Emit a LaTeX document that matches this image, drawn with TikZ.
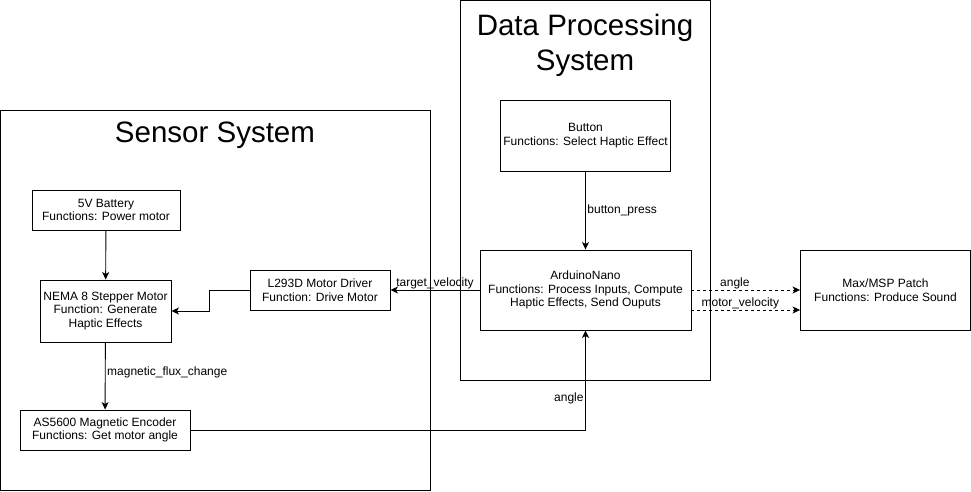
\documentclass[tikz,border=0pt]{standalone}
\usepackage{fontspec}
\setmainfont{Liberation Sans}
\usetikzlibrary{arrows.meta}

\begin{document}
\begin{tikzpicture}[x=1pt, y=-1pt, >={Stealth[length=7.5pt, width=7pt, inset=2pt]}, line width=0.9pt,
    block/.style={draw, align=center, inner sep=0pt, font=\fontsize{12}{13.5}\selectfont},
    lbl/.style={inner sep=1.5pt, font=\fontsize{12}{14}\selectfont},
    title/.style={align=center, font=\fontsize{29.5}{35}\selectfont}]
  \useasboundingbox (0,0) rectangle (971,491);
  % the two subsystems
  \draw (0.5,110.5) rectangle (430,490.5);
  \draw (460,0.5) rectangle (710,380);
  \node[title] (senstitle) at (215,135) {Sensor System};
  \node[title] (datatitle) at (585,45) {Data Processing\\System};
  % sensor system
  \node[block, minimum width=148pt, minimum height=40pt] (battery) at (106,210) {5V Battery\\Functions: Power motor};
  \node[block, minimum width=131pt, minimum height=62pt] (nema) at (105.5,311) {NEMA 8 Stepper Motor\\Function: Generate\\Haptic Effects};
  \node[block, minimum width=140pt, minimum height=40pt] (driver) at (320,290) {L293D Motor Driver\\Function: Drive Motor};
  \node[block, minimum width=170pt, minimum height=40pt] (encoder) at (105,430) {AS5600 Magnetic Encoder\\Functions: Get motor angle};
  % data processing system
  \node[block, minimum width=170pt, minimum height=71pt] (button) at (585.5,135.5) {Button\\Functions: Select Haptic Effect};
  \node[block, minimum width=211pt, minimum height=80pt] (nano) at (585.5,290) {ArduinoNano\\Functions: Process Inputs, Compute\\Haptic Effects, Send Ouputs};
  \node[block, minimum width=170pt, minimum height=80pt] (maxmsp) at (885.5,290) {Max/MSP Patch\\Functions: Produce Sound};

  \path[->] (battery) edge (nema);
  \path[->] (nema) edge node[lbl, right, pos=0.45] {magnetic\_flux\_change} (encoder);
  \draw[->] (driver.west) -- ++(-40,0) |- (nema.east);
  \draw[->] (encoder.east) -| node[lbl, left, pos=0.66] {angle} (nano.south);
  \path[->] (button) edge node[lbl, right] {button\_press} (nano);
  \path[->] (nano) edge node[lbl, above, inner sep=0.5pt] {target\_velocity} (driver);
  \path[->, dashed] (nano.east) edge node[lbl, above, pos=0.4, inner sep=0.5pt] {angle} (maxmsp.west);
  \path[->, dashed] ([yshift=-20pt]nano.east) edge node[lbl, above, pos=0.45, inner sep=0.5pt] {motor\_velocity} ([yshift=-20pt]maxmsp.west);
\end{tikzpicture}
\end{document}
